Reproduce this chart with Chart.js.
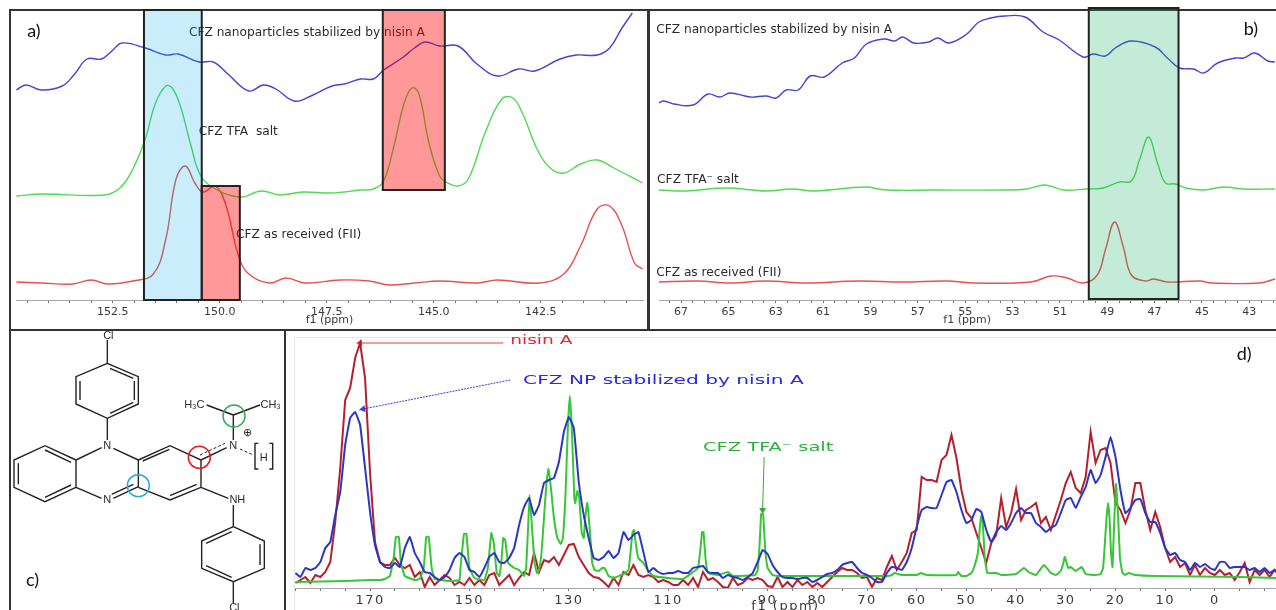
<!DOCTYPE html>
<html>
<head>
<meta charset="utf-8">
<title>CFZ NMR spectra</title>
<script src="https://cdn.jsdelivr.net/npm/chart.js@4"></script>
<style>
    html, body { margin: 0; padding: 0; background: #fff; overflow: hidden; }
    #page { position: relative; width: 1276px; height: 610px; overflow: hidden; }
    canvas { position: absolute; filter: blur(0.45px); }
    .frame { position: absolute; box-sizing: border-box; border: 2px solid #333; }
</style>
</head>
<body>
<div id="page">
    <div class="frame" style="left:9px;top:9px;width:640px;height:322px"></div>
    <div class="frame" style="left:648px;top:9px;width:640px;height:322px"></div>
    <div class="frame" style="left:9px;top:329px;width:277px;height:300px"></div>
    <div class="frame" style="left:284px;top:329px;width:1004px;height:300px"></div>
    <div class="frame" style="left:294px;top:337px;width:990px;height:280px;border:1px solid #e6e6e6"></div>
    <canvas id="graficoA" width="638" height="323" style="left:10px;top:7px"></canvas>
    <canvas id="graficoB" width="627" height="323" style="left:649px;top:7px"></canvas>
    <canvas id="graficoC" width="290" height="285" style="left:0;top:325px"></canvas>
    <canvas id="graficoD" width="990" height="279" style="left:286px;top:331px"></canvas>
</div>

<script>
// panel a) 140-155 ppm
const shiftsBlueA = [154.75,154.53,154.17,153.68,153.39,153.10,152.76,152.52,152.28,151.74,151.26,150.97,150.48,150.15,149.81,149.32,148.98,148.69,148.26,147.87,147.38,147.09,146.71,146.41,146.17,145.74,145.45,145.20,144.86,144.43,143.99,143.51,143.02,142.64,142.05,141.67,141.18,140.89,140.60,140.36];
const blueA = [210,215,210,214,226,241,241,249,257,252,245,246,238,238,226,209,215,211,199,204,214,216,221,221,230,242,252,258,254,254,236,224,231,229,241,245,245,252,272,287];
const shiftsGreenA = [154.75,154.17,152.71,152.33,152.03,151.74,151.50,151.26,151.11,150.92,150.67,150.44,150.10,149.52,149.03,148.59,148.06,147.38,146.71,146.41,146.17,145.93,145.69,145.51,145.35,145.11,144.86,144.67,144.43,144.19,143.80,143.41,143.15,142.93,142.54,142.25,141.96,141.57,141.18,140.79,140.12];
const greenA = [104,106,105,112,131,161,197,214,212,194,154,124,111,103,109,105,108,107,110,111,119,154,197,212,207,157,124,117,114,121,167,201,202,187,147,131,127,136,140,132,117];
const shiftsRedA = [154.75,154.17,153.44,153.00,152.62,152.03,151.55,151.26,151.02,150.80,150.58,150.39,150.10,149.85,149.56,149.32,148.84,148.45,148.01,147.19,146.51,146.03,145.45,144.86,143.99,143.51,142.54,141.96,141.57,141.18,140.89,140.60,140.31,140.12];
const redA = [18,17,16,20,16,19,26,61,121,134,117,108,114,94,44,26,17,22,17,20,19,15,17,19,17,20,17,26,54,91,94,74,37,31];
const tickLabelsA = [152.5,150,147.5,145,142.5];

// panel b) 42-68 ppm
const shiftsBlueB = [67.95,67.73,67.31,66.49,65.86,65.36,64.93,64.08,63.41,62.98,62.56,62.05,61.54,60.95,60.19,59.68,59.17,58.41,57.98,57.64,57.17,56.54,56.15,55.69,54.93,54.42,53.92,53.32,52.47,51.71,51.03,50.02,49.59,49.08,48.66,47.98,46.97,46.46,45.95,45.36,44.93,44.34,43.58,43.24,42.76,42.22,41.92];
const blueB = [197,199,196,195,206,203,207,203,204,202,210,210,224,223,237,242,256,261,259,263,257,258,262,257,266,278,282,284,283,268,260,243,246,244,252,259,253,242,232,231,227,237,242,242,247,239,238];
const shiftsGreenB = [67.95,66.80,65.10,63.41,62.31,61.37,59.25,58.32,56.29,53.24,52.39,51.63,50.86,49.85,49.17,48.49,47.98,47.64,47.25,46.88,46.54,46.12,45.69,44.93,44.08,43.24,41.92];
const greenB = [110,109,112,109,111,109,113,110,110,110,111,115,110,111,112,118,119,140,163,137,117,116,112,110,113,111,111];
const shiftsRedB = [67.95,66.29,64.93,63.41,61.71,59.51,57.64,55.78,54.59,52.22,51.37,50.69,50.02,49.42,49.08,48.69,48.32,47.98,47.39,47.05,46.46,45.10,44.59,42.56,41.92];
const redB = [18,19,17,19,17,19,18,19,17,18,24,22,17,25,50,78,53,25,19,21,18,19,17,17,21];
const tickLabelsB = [67,65,63,61,59,57,55,53,51,49,47,45,43];

// panel c) structure, x/y pairs, null breaks the line
const bondX = [322,415,415,322,228,228,322,null,330,400,null,403,403,null,330,400,null,240,240,null,322,322,null,322,322,null,228,135,42,42,135,228,228,null,135,213,null,55,55,null,135,213,null,305,228,null,228,305,null,340,415,null,415,415,null,340,415,null,335,400,null,415,510,603,603,510,415,null,428,508,null,510,590,null,603,680,null,700,700,null,700,620,null,700,780,null,603,685,null,700,700,null,700,793,793,700,605,605,700,null,618,695,null,780,780,null,618,695,null,700,700,null,775,765,765,775,null,808,818,818,808];
const bondY = [115,155,237,280,237,155,115,null,130,160,null,168,225,null,265,232,null,168,225,null,45,115,null,280,345,null,405,362,405,487,530,487,405,null,375,412,null,415,478,null,517,480,null,368,405,null,487,520,null,370,405,null,405,487,null,520,485,null,508,478,null,405,362,405,487,525,487,null,408,373,null,512,478,null,405,368,null,345,270,null,270,240,null,270,240,null,487,520,null,540,605,null,605,648,730,770,730,648,605,null,655,620,null,658,720,null,722,757,null,770,835,null,355,355,432,432,null,355,355,432,432];
const dashedX = [600,675,null,720,760];
const dashedY = [390,355,null,372,390];

// panel d) full range, red and blue read every 1 ppm
const shiftsD = [185,184,183,182,181,180,179,178,177,176,175,174,173,172,171,170,169,168,167,166,165,164,163,162,161,160,159,158,157,156,155,154,153,152,151,150,149,148,147,146,145,144,143,142,141,140,139,138,137,136,135,134,133,132,131,130,129,128,127,126,125,124,123,122,121,120,119,118,117,116,115,114,113,112,111,110,109,108,107,106,105,104,103,102,101,100,99,98,97,96,95,94,93,92,91,90,89,88,87,86,85,84,83,82,81,80,79,78,77,76,75,74,73,72,71,70,69,68,67,66,65,64,63,62,61,60,59,58,57,56,55,54,53,52,51,50,49,48,47,46,45,44,43,42,41,40,39,38,37,36,35,34,33,32,31,30,29,28,27,26,25,24,23,22,21,20,19,18,17,16,15,14,13,12,11,10,9,8,7,6,5,4,3,2,1,0,-1,-2,-3,-4,-5,-6,-7,-8,-9,-10,-11,-12,-13];
const redD = [5,8,11,5,13,11,16,26,66,120,
    188,200,230,245,210,115,46,26,23,23,
    30,23,20,23,11,16,1,11,3,8,
    13,10,3,6,3,10,3,8,3,13,
    15,3,8,13,3,10,16,13,35,16,
    28,26,31,23,33,43,44,31,23,15,
    11,10,6,1,10,3,16,13,23,13,
    11,13,11,6,8,6,3,3,8,3,
    10,1,16,8,10,6,1,0,10,3,
    5,10,8,10,8,2,1,11,1,6,
    1,8,3,6,1,5,1,6,11,16,
    20,18,18,15,10,11,1,10,8,21,
    32,18,26,35,55,58,111,108,108,106,
    128,133,153,130,98,76,70,55,40,25,
    45,53,90,61,75,99,68,78,81,85,
    65,71,58,73,88,105,116,100,95,111,
    156,125,138,140,125,85,78,65,78,105,
    105,78,58,76,61,40,26,31,21,25,
    13,23,13,20,15,13,18,13,15,8,
    16,25,6,18,13,18,11,18,12];
const blueD = [15,11,20,18,20,26,40,46,73,96,
    143,170,176,163,120,76,43,26,21,20,
    25,21,40,51,35,26,16,15,11,8,
    11,18,30,35,31,18,16,11,20,31,
    35,26,25,30,40,63,81,90,73,83,
    105,108,110,126,156,171,160,106,73,50,
    30,28,31,37,30,35,56,48,53,56,
    36,16,20,16,14,15,15,17,15,15,
    20,21,22,16,15,15,10,13,11,10,
    8,11,15,26,38,34,23,16,11,10,
    10,9,10,10,6,8,11,14,15,18,
    23,25,26,20,15,13,10,6,6,15,
    21,20,18,26,40,61,78,81,80,80,
    93,106,108,96,78,65,68,79,76,58,
    46,56,62,58,65,75,80,75,75,65,
    61,56,60,63,75,88,90,80,91,101,
    118,105,113,131,151,131,98,75,80,88,
    89,75,66,66,55,40,33,35,28,26,
    18,25,21,24,20,18,26,26,20,21,
    21,21,18,20,16,20,15,18,17];
const shiftsGreenD = [185,175,170,168,167,166,165.3,164.8,164.2,163.8,163,161,160,159.2,158.7,158.2,157.6,157,154,152,151.8,151.1,150.6,150,149,147,146.3,145.6,145.1,144.5,144,143.6,143.2,142.8,142.2,141,140,139,138.6,138.2,137.9,137.4,136.9,136.4,136,135.5,135,134.5,134.1,133.6,133,132.3,131.6,131.2,130.7,130.2,129.8,129.4,128.9,128.7,128.3,127.9,127.4,127,126.7,126.3,125.8,125.3,124.8,124,123.3,122.8,122,121,119,118,117.7,117.2,116.9,116.4,116,115,114,113,110,107,105,104,103.5,103.2,102.9,102.5,102,100,98,97,92.5,92,91.6,91.3,90.9,90.5,90,89,88,66,65,64.5,63,60,59.2,58,52,51.7,51,50,49,48.5,47.7,47.3,47,46.7,46.3,45.8,44,43,40,38.4,37.5,36,34.4,33,32,31,30.5,30.2,29.5,29,28,26.8,26,24,23,22.5,22.2,21.8,21.5,21.2,20.9,20.6,20.3,19.9,19.5,19.1,18.6,18,17.4,16,12,-5,-13];
const greenD = [6,7,8,8,9,12,28,51,51,25,12,8,9,20,51,51,20,9,7,8,20,54,54,20,10,8,20,55,45,15,12,25,50,48,25,20,18,12,20,60,93,60,25,15,18,35,70,105,119,100,70,50,44,50,90,160,192,160,90,85,97,90,55,50,70,85,60,25,18,17,20,20,12,10,14,18,30,55,58,40,30,25,17,12,10,9,16,20,40,56,56,30,15,13,16,12,13,18,45,74,74,40,20,13,12,12,13,15,13,13,15,13,13,16,12,12,15,20,35,60,72,65,30,15,15,13,14,20,16,13,23,15,13,17,25,31,20,21,17,21,14,13,14,20,40,70,85,70,35,21,60,104,75,30,15,13,15,13,12,11,10];
const tickLabelsD = [170,150,130,110,90,80,70,60,50,40,30,20,10,0];

// arrows of panel d
const arrowRedX = [143.2,172];
const arrowRedY = [245,245];
const arrowBlueX = [141.8,171.4];
const arrowBlueY = [208,179];
const arrowGreenX = [90.7,91];
const arrowGreenY = [131,78];

function pares(xs, ys) {
    return xs.map((x, i) => ({ x: x, y: ys[i] }));
}

function curva(xs, ys, cor, largura, tensao) {
    return {
        data: pares(xs, ys),
        borderColor: cor,
        borderWidth: largura,
        pointRadius: 0,
        tension: tensao,
        showLine: true,
        fill: false
    };
}

function seta(xs, ys, cor, rotacao, dash) {
    return {
        data: pares(xs, ys),
        borderColor: cor,
        backgroundColor: cor,
        borderWidth: 1,
        borderDash: dash,
        showLine: true,
        pointStyle: 'triangle',
        pointRotation: rotacao,
        pointRadius: [0, 4],
        pointBorderWidth: 0
    };
}

// texts and shaded boxes go through the chart scales
function extras(textos, caixas, espaco) {
    return {
        id: 'extras',
        beforeDraw(chart) {
            chart.ctx.letterSpacing = espaco || '0px';
        },
        afterDatasetsDraw(chart) {
            const ctx = chart.ctx;
            const sx = chart.scales.x;
            const sy = chart.scales.y;
            ctx.save();
            ctx.letterSpacing = '0px';
            textos.forEach(t => {
                ctx.save();
                ctx.font = t.font;
                ctx.fillStyle = t.color || '#2b2b2b';
                ctx.textAlign = t.align || 'left';
                ctx.textBaseline = 'middle';
                ctx.translate(sx.getPixelForValue(t.x), sy.getPixelForValue(t.y));
                ctx.scale(t.stretch || 1, 1);
                ctx.fillText(t.text, 0, 0);
                ctx.restore();
            });
            caixas.forEach(c => {
                const x0 = sx.getPixelForValue(c.from);
                const x1 = sx.getPixelForValue(c.to);
                const y0 = sy.getPixelForValue(c.top);
                const y1 = sy.getPixelForValue(c.bottom);
                ctx.fillStyle = c.fill;
                ctx.fillRect(x0, y0, x1 - x0, y1 - y0);
                ctx.strokeStyle = '#222';
                ctx.lineWidth = 2;
                ctx.strokeRect(x0, y0, x1 - x0, y1 - y0);
            });
            ctx.restore();
        }
    };
}

function eixoPpm(min, max, passo, rotulos, casas, alturaEixo, tamanho, pad, tituloTam, tituloBaixo) {
    return {
        type: 'linear',
        reverse: true,
        min: min,
        max: max,
        afterFit(scale) { scale.height = alturaEixo; },
        border: { display: true, color: '#a8a8a8' },
        grid: { drawOnChartArea: false, drawTicks: true, tickLength: 3, color: '#777' },
        ticks: {
            stepSize: passo,
            includeBounds: false,
            autoSkip: false,
            maxRotation: 0,
            padding: pad,
            color: '#3a3a3a',
            font: { family: 'DejaVu Sans', size: tamanho },
            callback: value => rotulos.includes(value) ? value.toFixed(casas) : ''
        },
        title: {
            display: true,
            text: 'f1 (ppm)',
            color: '#3a3a3a',
            font: { family: 'DejaVu Sans', size: tituloTam },
            padding: { top: 0, bottom: tituloBaixo }
        }
    };
}

function opcoes(xScale, yMax, padding) {
    return {
        responsive: false,
        animation: false,
        layout: { padding: padding, autoPadding: false },
        plugins: { legend: { display: false }, tooltip: { enabled: false } },
        scales: {
            x: xScale,
            y: { display: false, min: 0, max: yMax }
        }
    };
}

const fonteRotulo = '12.2px "DejaVu Sans"';
const fontePainel = '18px Lato';

new Chart(document.getElementById('graficoA'), {
    type: 'scatter',
    data: {
        datasets: [
            curva(shiftsBlueA, blueA, '#4444d4', 1.4, 0.4),
            curva(shiftsGreenA, greenA, '#50da50', 1.4, 0.4),
            curva(shiftsRedA, redA, '#ea5050', 1.4, 0.4)
        ]
    },
    options: opcoes(eixoPpm(140.11, 154.76, 0.5, tickLabelsA, 1, 30, 11, 3, 11, 3), 293, { left: 6, right: 5, top: 0, bottom: 0 }),
    plugins: [extras([
        { text: 'a)', x: 154.5, y: 269, font: fontePainel, color: '#111' },
        { text: 'CFZ nanoparticles stabilized by nisin A', x: 150.72, y: 267, font: fonteRotulo },
        { text: 'CFZ TFA  salt', x: 150.49, y: 168, font: fonteRotulo },
        { text: 'CFZ as received (FII)', x: 149.62, y: 65, font: fonteRotulo }
    ], [
        { from: 151.77, to: 150.42, top: 290, bottom: 0, fill: 'rgba(0,170,230,0.21)' },
        { from: 150.42, to: 149.53, top: 114, bottom: 0, fill: 'rgba(255,0,0,0.4)' },
        { from: 146.19, to: 144.74, top: 290, bottom: 110, fill: 'rgba(255,0,0,0.4)' }
    ])]
});

new Chart(document.getElementById('graficoB'), {
    type: 'scatter',
    data: {
        datasets: [
            curva(shiftsBlueB, blueB, '#4444d4', 1.4, 0.4),
            curva(shiftsGreenB, greenB, '#50da50', 1.4, 0.4),
            curva(shiftsRedB, redB, '#ea5050', 1.4, 0.4)
        ]
    },
    options: opcoes(eixoPpm(41.9, 67.93, 0.5, tickLabelsB, 0, 30, 11, 3, 11, 3), 293, { left: 10, right: 0, top: 0, bottom: 0 }),
    plugins: [extras([
        { text: 'b)', x: 43.24, y: 271, font: fontePainel, color: '#111' },
        { text: 'CFZ nanoparticles stabilized by nisin A', x: 68.05, y: 270, font: fonteRotulo },
        { text: 'CFZ TFA⁻ salt', x: 68.01, y: 120, font: fonteRotulo },
        { text: 'CFZ as received (FII)', x: 68.05, y: 27, font: fonteRotulo }
    ], [
        { from: 49.78, to: 45.99, top: 292, bottom: 1, fill: 'rgba(0,170,80,0.23)' }
    ])]
});

const fonteAtomo = '11px "Liberation Sans"';

new Chart(document.getElementById('graficoC'), {
    type: 'scatter',
    data: {
        datasets: [
            { data: [{ x: 702, y: 273 }], pointRadius: 11, pointBorderColor: '#2fae5a', pointBackgroundColor: 'transparent', pointBorderWidth: 1.5 },
            { data: [{ x: 598, y: 397 }], pointRadius: 11, pointBorderColor: '#e02020', pointBackgroundColor: 'transparent', pointBorderWidth: 1.5 },
            { data: [{ x: 415, y: 482 }], pointRadius: 11, pointBorderColor: '#29abe2', pointBackgroundColor: 'transparent', pointBorderWidth: 1.5 },
            { data: pares(dashedX, dashedY), showLine: true, borderColor: '#222', borderWidth: 1, borderDash: [3, 2], pointRadius: 0, spanGaps: false },
            { data: pares(bondX, bondY), showLine: true, borderColor: '#222', borderWidth: 1.4, pointRadius: 0, spanGaps: false }
        ]
    },
    options: {
        responsive: false,
        animation: false,
        layout: { padding: 0, autoPadding: false },
        plugins: { legend: { display: false }, tooltip: { enabled: false } },
        scales: {
            x: { display: false, min: 0, max: 870 },
            y: { display: false, min: 0, max: 855, reverse: true }
        }
    },
    plugins: [extras([
        { text: 'Cl', x: 325, y: 33, font: fonteAtomo, align: 'center' },
        { text: 'N', x: 322, y: 362, font: fonteAtomo, align: 'center' },
        { text: 'N', x: 322, y: 525, font: fonteAtomo, align: 'center' },
        { text: 'N', x: 700, y: 362, font: fonteAtomo, align: 'center' },
        { text: '⊕', x: 742, y: 325, font: fonteAtomo, align: 'center' },
        { text: 'H', x: 791, y: 400, font: fonteAtomo, align: 'center' },
        { text: 'H₃C', x: 583, y: 240, font: fonteAtomo, align: 'center' },
        { text: 'CH₃', x: 812, y: 240, font: fonteAtomo, align: 'center' },
        { text: 'NH', x: 712, y: 525, font: fonteAtomo, align: 'center' },
        { text: 'Cl', x: 703, y: 850, font: fonteAtomo, align: 'center' },
        { text: 'c)', x: 78, y: 765, font: fontePainel, color: '#111' }
    ], [])]
});

const fonteD = '12px "DejaVu Sans"';

new Chart(document.getElementById('graficoD'), {
    type: 'scatter',
    data: {
        datasets: [
            curva(shiftsD, blueD, '#2a36c4', 2, 0.1),
            curva(shiftsGreenD, greenD, '#36c636', 2, 0.1),
            curva(shiftsD, redD, '#b5202c', 2, 0),
            seta(arrowRedX, arrowRedY, '#ef3a3a', -90),
            seta(arrowBlueX, arrowBlueY, '#3a3ae0', -101, [2, 1]),
            seta(arrowGreenX, arrowGreenY, '#3aa83a', 180)
        ]
    },
    options: opcoes(eixoPpm(-12.3, 185.1, 5, tickLabelsD, 0, 22, 13, 2, 13, -4), 251, { left: 9, right: 0, top: 6, bottom: 0 }),
    plugins: [extras([
        { text: 'nisin A', x: 141.8, y: 247, font: fonteD, color: '#e8282d', stretch: 1.55 },
        { text: 'CFZ NP stabilized by nisin A', x: 139.2, y: 207, font: fonteD, color: '#2a2ae0', stretch: 1.68 },
        { text: 'CFZ TFA⁻ salt', x: 103, y: 140, font: fonteD, color: '#2fae3f', stretch: 1.62 },
        { text: 'd)', x: -4.4, y: 234, font: fontePainel, color: '#111' }
    ], [], '1.5px')]
});
</script>
</body>
</html>
